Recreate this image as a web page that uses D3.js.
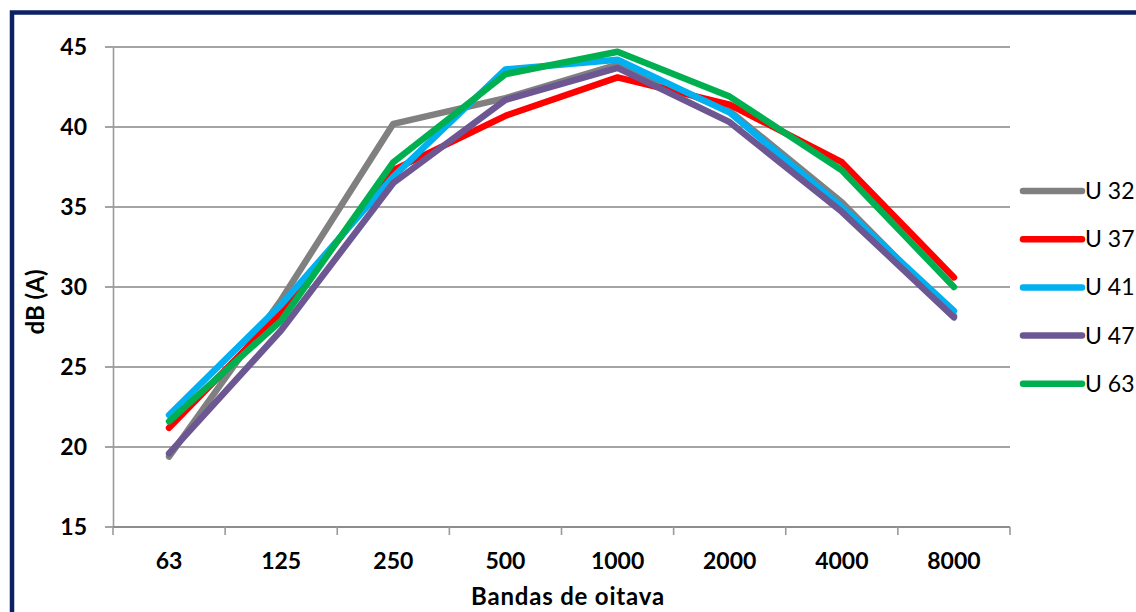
<!DOCTYPE html>
<html>
<head>
<meta charset="utf-8">
<script src="https://cdn.jsdelivr.net/npm/d3@7"></script>
<style>
  html, body { margin: 0; padding: 0; background: #fff; }
  svg { display: block; }
</style>
</head>
<body>
<svg id="chart" width="1136" height="612"></svg>
<script>
// Octave bands and measured A-weighted levels per unit
const bands = ["63", "125", "250", "500", "1000", "2000", "4000", "8000"];
const seriesNames = ["U 32", "U 37", "U 41", "U 47", "U 63"];
const u32 = [19.4, 29.2, 40.2, 41.8, 43.9, 41.0, 35.3, 28.2];
const u37 = [21.2, 28.4, 37.3, 40.7, 43.1, 41.4, 37.8, 30.6];
const u41 = [22.0, 28.9, 36.9, 43.6, 44.2, 40.9, 35.0, 28.5];
const u47 = [19.6, 27.3, 36.5, 41.7, 43.7, 40.3, 34.7, 28.1];
const u63 = [21.6, 27.9, 37.8, 43.3, 44.7, 41.9, 37.3, 30.0];
const yTicks = [15, 20, 25, 30, 35, 40, 45];
const colors = ["#808080", "#FF0000", "#00B0F0", "#6C5793", "#00B050"];

const series = [u32, u37, u41, u47, u63].map((values, i) => ({
  name: seriesNames[i], values, color: colors[i]
}));

const font = "Lato, 'Open Sans', sans-serif";
const svg = d3.select("#chart");
const plot = { left: 113, right: 1010, top: 47, bottom: 527 };

// Frame around the chart
svg.append("rect")
  .attr("x", 12).attr("y", 12.5)
  .attr("width", 1200).attr("height", 700)
  .attr("fill", "none")
  .attr("stroke", "#0B2163")
  .attr("stroke-width", 4.5);

const x = d3.scaleBand().domain(bands).range([plot.left, plot.right]).padding(0);
const y = d3.scaleLinear().domain([15, 45]).range([plot.bottom, plot.top]);

// Horizontal gridlines
svg.append("g")
  .selectAll("line")
  .data(yTicks)
  .join("line")
  .attr("x1", plot.left - 8).attr("x2", plot.right)
  .attr("y1", d => y(d)).attr("y2", d => y(d))
  .attr("stroke", "#868686")
  .attr("stroke-width", 1.6);

// Y axis
const yAxis = svg.append("g")
  .attr("transform", `translate(${plot.left},0)`)
  .call(d3.axisLeft(y).tickValues(yTicks).tickSize(0).tickPadding(26));
yAxis.select(".domain").attr("stroke", "#9A9A9A").attr("stroke-width", 1.6);
yAxis.selectAll("text")
  .attr("font-family", font)
  .attr("font-weight", 700)
  .attr("font-size", 23)
  .attr("fill", "#000");

// X axis with boundary ticks between categories
const xAxisG = svg.append("g")
  .attr("transform", `translate(0,${plot.bottom})`);
xAxisG.append("line")
  .attr("x1", plot.left).attr("x2", plot.right)
  .attr("y1", 0).attr("y2", 0)
  .attr("stroke", "#868686").attr("stroke-width", 1.6);
const boundaries = bands.map(b => x(b)).concat([plot.right]);
xAxisG.selectAll("line.tick")
  .data(boundaries)
  .join("line")
  .attr("class", "tick")
  .attr("x1", d => d).attr("x2", d => d)
  .attr("y1", 0).attr("y2", 8)
  .attr("stroke", "#9A9A9A").attr("stroke-width", 1.6);
xAxisG.selectAll("text")
  .data(bands)
  .join("text")
  .attr("x", d => x(d) + x.bandwidth() / 2)
  .attr("y", 42)
  .attr("text-anchor", "middle")
  .attr("font-family", font)
  .attr("font-weight", 700)
  .attr("font-size", 23)
  .attr("fill", "#000")
  .text(d => d);

// Axis titles
svg.append("text")
  .attr("x", 568).attr("y", 605)
  .attr("text-anchor", "middle")
  .attr("font-family", font)
  .attr("font-weight", 700)
  .attr("font-size", 24)
  .attr("letter-spacing", 0.8)
  .attr("fill", "#000")
  .text("Bandas de oitava");

svg.append("text")
  .attr("transform", "translate(44,302) rotate(-90)")
  .attr("text-anchor", "middle")
  .attr("font-family", font)
  .attr("font-weight", 700)
  .attr("font-size", 24)
  .attr("fill", "#000")
  .text("dB (A)");

// Series lines
const line = d3.line()
  .x((d, i) => x(bands[i]) + x.bandwidth() / 2)
  .y(d => y(d));

svg.append("g")
  .selectAll("path")
  .data(series)
  .join("path")
  .attr("d", d => line(d.values))
  .attr("fill", "none")
  .attr("stroke", d => d.color)
  .attr("stroke-width", 6.5)
  .attr("stroke-linecap", "round")
  .attr("stroke-linejoin", "round");

// Legend
const legend = svg.append("g")
  .selectAll("g")
  .data(series)
  .join("g")
  .attr("transform", (d, i) => `translate(1023,${191 + i * 48.2})`);
legend.append("line")
  .attr("x1", 0).attr("x2", 59)
  .attr("y1", 0).attr("y2", 0)
  .attr("stroke", d => d.color)
  .attr("stroke-width", 6.5)
  .attr("stroke-linecap", "round");
legend.append("text")
  .attr("x", 62).attr("y", 8)
  .attr("font-family", font)
  .attr("font-size", 23)
  .attr("fill", "#000")
  .text(d => d.name);
</script>
</body>
</html>
